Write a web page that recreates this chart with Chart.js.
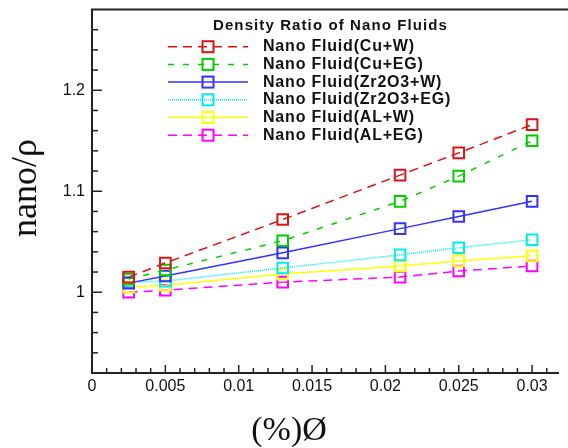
<!DOCTYPE html>
<html lang="en">
<head>
<meta charset="UTF-8">
<title>Density Ratio of Nano Fluids</title>
<script src="https://cdn.jsdelivr.net/npm/chart.js"></script>
<style>
  html, body { margin: 0; padding: 0; background: #fff; }
  #wrap { width: 568px; height: 448px; }
</style>
</head>
<body>
<div id="wrap"><canvas id="myChart" width="568" height="448"></canvas></div>
<script>
// volume fraction (x) and density ratio for each fluid
const fractions = [0.0025, 0.005, 0.013, 0.021, 0.025, 0.03];
const cuWater   = [1.015, 1.029, 1.072, 1.116, 1.138, 1.166];
const cuEG      = [1.013, 1.022, 1.051, 1.090, 1.115, 1.150];
const zrWater   = [1.009, 1.016, 1.039, 1.063, 1.075, 1.090];
const zrEG      = [1.010, 1.011, 1.024, 1.037, 1.044, 1.052];
const alWater   = [1.005, 1.007, 1.018, 1.026, 1.031, 1.036];
const alEG      = [1.000, 1.002, 1.010, 1.015, 1.021, 1.026];

const seriesNames = ['Nano Fluid(Cu+W)', 'Nano Fluid(Cu+EG)', 'Nano Fluid(Zr2O3+W)',
                     'Nano Fluid(Zr2O3+EG)', 'Nano Fluid(AL+W)', 'Nano Fluid(AL+EG)'];
const xTickLabels = [0, 0.005, 0.01, 0.015, 0.02, 0.025, 0.03];
const yTickLabels = [1, 1.1, 1.2];

const styles = [
    { color: 'rgb(220,20,20)',  dash: [9, 6] },
    { color: 'rgb(0,205,0)',    dash: [6, 9] },
    { color: 'rgb(50,50,255)',  dash: [] },
    { color: 'rgb(0,235,235)',  dash: [1, 1] },
    { color: 'rgb(255,255,0)',  dash: [] },
    { color: 'rgb(255,0,255)',  dash: [9, 6] }
];

const allSeries = [cuWater, cuEG, zrWater, zrEG, alWater, alEG];

const datasets = allSeries.map((vals, i) => ({
    label: seriesNames[i],
    data: fractions.map((x, j) => ({ x: x, y: vals[j] })),
    borderColor: styles[i].color,
    borderDash: styles[i].dash,
    borderWidth: 1.5,
    fill: false,
    tension: 0,
    pointStyle: 'rect',
    pointRadius: 7.5,
    pointBorderWidth: 2,
    pointBorderColor: styles[i].color,
    pointBackgroundColor: 'rgba(0,0,0,0)'
}));

const tickFont = { family: '"Liberation Sans", Arial, sans-serif', size: 16 };

// frame, inward ticks, legend and axis titles
const framePlugin = {
    id: 'frame',
    afterDraw(chart) {
        const ctx = chart.ctx;
        const area = chart.chartArea;
        const xs = chart.scales.x, ys = chart.scales.y;
        ctx.save();
        ctx.strokeStyle = '#222';
        ctx.lineWidth = 2;
        ctx.beginPath();
        ctx.moveTo(area.left - 1, area.top);
        ctx.lineTo(chart.width, area.top);
        ctx.stroke();

        ctx.lineWidth = 1.5;
        for (let k = 1; k < 32; k++) {
            const px = xs.getPixelForValue(k / 1000);
            const len = k % 5 === 0 ? 8 : 5;
            ctx.beginPath();
            ctx.moveTo(px, area.bottom);
            ctx.lineTo(px, area.bottom - len);
            ctx.stroke();
        }
        for (let k = 47; k < 64; k++) {
            const py = ys.getPixelForValue(k * 0.02);
            const len = k % 5 === 0 ? 10 : 6;
            ctx.beginPath();
            ctx.moveTo(area.left, py);
            ctx.lineTo(area.left + len, py);
            ctx.stroke();
        }

        // legend
        ctx.fillStyle = '#111';
        ctx.textBaseline = 'middle';
        ctx.textAlign = 'left';
        ctx.font = 'bold 15px "Liberation Sans", Arial, sans-serif';
        ctx.letterSpacing = '1.1px';
        ctx.fillText('Density Ratio of Nano Fluids', 213, 26);
        ctx.font = 'bold 16px "Liberation Sans", Arial, sans-serif';
        ctx.letterSpacing = '0.8px';
        chart.data.datasets.forEach((ds, i) => {
            const y = 46.7 + i * 17.7;
            ctx.strokeStyle = ds.borderColor;
            ctx.lineWidth = ds.borderWidth;
            ctx.setLineDash(ds.borderDash);
            ctx.beginPath();
            ctx.moveTo(168, y);
            ctx.lineTo(248, y);
            ctx.stroke();
            ctx.setLineDash([]);
            ctx.lineWidth = ds.pointBorderWidth;
            ctx.strokeRect(208 - 5.5, y - 5.5, 11, 11);
            ctx.fillText(ds.label, 263, y);
        });
        ctx.letterSpacing = '0px';

        // axis titles
        ctx.font = '34px "Liberation Serif", "Times New Roman", serif';
        ctx.textAlign = 'center';
        ctx.textBaseline = 'alphabetic';
        ctx.fillText('(%)Ø', 289, 440);
        ctx.font = '36px "Liberation Serif", "Times New Roman", serif';
        ctx.translate(36, 188);
        ctx.rotate(-Math.PI / 2);
        ctx.fillText('nano/ρ', 0, 0);
        ctx.restore();
    }
};

const config = {
    type: 'line',
    data: { datasets: datasets },
    options: {
        responsive: false,
        animation: false,
        devicePixelRatio: 1,
        layout: { padding: { top: 7, right: 0, left: 0, bottom: 0 } },
        plugins: { legend: { display: false }, tooltip: { enabled: false } },
        scales: {
            x: {
                type: 'linear',
                min: 0,
                max: 0.0318,
                grid: { display: false, drawTicks: false },
                border: { display: true, color: '#222', width: 2 },
                ticks: {
                    font: tickFont, color: '#111', padding: 4,
                    autoSkip: false, maxRotation: 0,
                    callback: v => String(v)
                },
                afterBuildTicks: s => { s.ticks = xTickLabels.map(v => ({ value: v })); },
                afterFit: s => { s.height = 75; s.paddingLeft = 0; s.paddingRight = 0; }
            },
            y: {
                min: 0.92,
                max: 1.28,
                grid: { display: false, drawTicks: false },
                border: { display: true, color: '#222', width: 2 },
                ticks: {
                    font: tickFont, color: '#111', padding: 7,
                    callback: v => String(v)
                },
                afterBuildTicks: s => { s.ticks = yTickLabels.map(v => ({ value: v })); },
                afterFit: s => { s.width = 92; s.paddingTop = 0; s.paddingBottom = 0; }
            }
        }
    },
    plugins: [framePlugin]
};

const ctx = document.getElementById('myChart').getContext('2d');
const myChart = new Chart(ctx, config);
</script>
</body>
</html>
